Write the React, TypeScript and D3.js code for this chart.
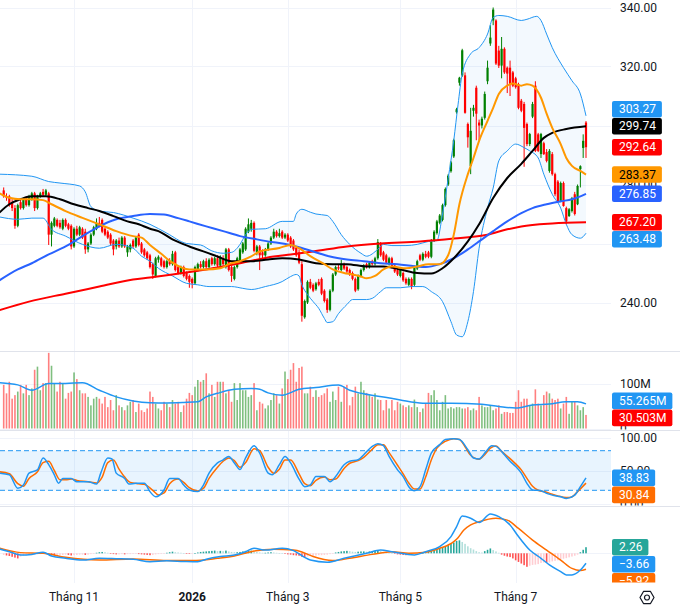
import { useEffect, useRef } from "react";
import * as d3 from "d3";

// daily candles [open, high, low, close]
const CANDLES_SEP_OCT = [
  [278, 279, 275.5, 276], [276, 277, 274.5, 275.5], [276, 276.5, 272.5, 273], [274, 275, 271, 272], [272, 273, 265, 266],
  [266, 273.5, 265.5, 273], [274, 275, 271.5, 272], [272, 275.5, 271.5, 275], [275, 276, 272.5, 273], [273, 276.5, 272.5, 276],
  [275, 277.5, 274.5, 277], [277, 277.5, 271, 272], [272, 276.5, 271.5, 276], [276, 277.5, 275.5, 277], [277.5, 278.5, 276, 276.5],
  [276.5, 278.5, 276, 278], [277, 277.5, 259.5, 263], [263, 267.5, 259, 267], [266, 269, 265.5, 268.5], [268, 268.5, 265.5, 266],
  [267, 268, 265, 265.5], [265, 268.5, 264.5, 268], [268, 268.5, 265.5, 266], [266.5, 267, 264.5, 265], [266, 266.5, 258, 259],
];
const CANDLES_NOV_DEC = [
  [259, 265.5, 258.5, 265], [265, 266, 262.5, 263], [263, 266, 262.5, 265.5], [265, 265.5, 261.5, 262], [264, 265, 256.5, 258],
  [258, 260.5, 257, 260], [260, 263.5, 259.5, 263], [263, 266, 262.5, 265.5], [265, 268.5, 264.5, 267], [267, 269, 265.5, 266],
  [268, 268.5, 263.5, 264], [265, 265.5, 262.5, 263], [264, 264.5, 261.5, 262], [263, 263.5, 259.5, 260], [261, 261.5, 256, 258],
  [259, 261.5, 258, 261], [261, 262, 258.5, 259], [259, 262.5, 258.5, 262], [262, 262.5, 258.5, 259], [257, 259.5, 255.5, 259],
  [258, 260, 257, 259.5], [261, 261.5, 258.5, 259], [259, 262.5, 258.5, 262], [263, 263.5, 259, 259.5], [260, 260.5, 256.5, 257],
  [258, 258.5, 255.5, 256], [257, 257.5, 254.5, 255], [256, 256.5, 251.5, 252], [253, 253.5, 248, 249.5], [249, 255.5, 248.5, 255],
  [254.5, 256, 253.5, 255.5], [255, 255.5, 252, 252.5], [254, 254.5, 251.5, 252], [252, 254.5, 251.5, 254], [254, 255, 252.5, 253],
  [253, 257.5, 252.5, 256.5], [257, 257.5, 250.5, 251], [252, 252.5, 249.5, 250], [250, 252.5, 249.5, 252], [252, 252.5, 248.5, 249],
  [250, 250.5, 247.5, 248], [249, 249.5, 245, 247],
];
const CANDLES_JAN_FEB = [
  [248, 248.5, 244.8, 246.5], [246.5, 252.5, 246, 252], [251, 253.5, 250.5, 253], [253, 254, 251.5, 252], [252, 254.5, 251.5, 254],
  [254, 255, 251.5, 252], [252, 255, 251.5, 254.5], [255, 255.5, 252.5, 253], [253, 255.5, 252.5, 255], [255, 256, 252, 252.5],
  [252.5, 256, 252, 255.5], [255, 256, 252.5, 253], [252, 258.5, 251.5, 258], [258, 258.5, 250.5, 251], [252, 252.5, 247, 249],
  [248, 252.5, 247.5, 252], [252, 255.5, 251.5, 255], [254, 258.5, 253.5, 258], [257, 260.5, 256.5, 260], [258, 265.5, 257.5, 265],
  [264, 268.5, 263.5, 266.5], [265, 268, 264, 267], [267, 267.5, 257, 257.5], [257, 259.5, 256, 259], [259, 259.5, 251, 256],
  [257, 258, 255, 256], [256, 258.5, 255.5, 258], [258, 260.5, 257.5, 260], [260, 262.5, 259.5, 262], [262, 265, 261.5, 264],
  [264, 264.5, 262, 262.5], [262.5, 265, 262, 263.5], [264, 264.5, 261.5, 262], [262, 263.5, 261.5, 263],
];
const CANDLES_MAR_APR = [
  [263, 263.5, 260.5, 261], [262, 262.5, 258.5, 259], [261, 261.5, 257.5, 258], [258.5, 259, 255.5, 256], [257, 258, 253, 253.5],
  [253, 254, 233.5, 235.5], [235, 241, 234.5, 240.5], [240, 247.5, 239.5, 247], [247, 248, 244.5, 245], [246, 246.5, 243.5, 244],
  [244.5, 247, 244, 246.5], [247, 248, 245.5, 246], [248, 248.5, 242.5, 243], [244, 244.5, 240, 240.5], [241, 241.5, 236.5, 237.5],
  [237.5, 244.5, 237, 244], [244, 250, 243.5, 249.5], [249.5, 252.5, 249, 252], [252, 253, 251, 251.5], [251, 254.5, 250.5, 253],
  [253, 253.5, 251, 251.5], [252, 252.5, 250, 250.5], [251, 251.5, 249, 249.5], [250, 250.5, 247.5, 248], [248, 248.5, 243.5, 244],
  [244.5, 249.5, 244, 249], [249, 251.5, 248.5, 251], [251, 253, 250.5, 252.5], [253, 253.5, 251.5, 252], [252, 254, 251.5, 253.5],
  [254, 254.5, 252.5, 253], [253, 255.5, 252.5, 255], [255, 261.5, 254.5, 260.5], [260, 260.5, 255.5, 256], [257, 257.5, 254, 254.5],
  [256, 256.5, 253, 253.5], [253, 255.5, 252.5, 255], [255, 255.5, 251.5, 252], [252.5, 253, 250, 250.5], [251, 251.5, 249, 249.5],
];
const CANDLES_MAY_JUN = [
  [249, 251.5, 248.5, 251], [250, 250.5, 247, 247.5], [248, 248.5, 246, 246.5], [246, 248.5, 245.5, 248], [248, 248.5, 244.5, 245.5],
  [246, 252.5, 245.5, 252], [251.5, 254.5, 251, 254], [256, 256.5, 254, 254.5], [254.5, 257, 254, 256.5], [256.5, 257.5, 255, 255.5],
  [257, 257.5, 255, 255.5], [255.5, 261.5, 255, 261], [261, 264.5, 260.5, 264], [263.5, 268, 263, 267.5], [267, 270, 266.5, 269.5],
  [268, 273.5, 267.5, 273], [273, 279, 272.5, 278.5], [280, 283.5, 279.5, 283], [284.5, 288, 284, 287.5], [289.5, 295.5, 289, 295],
  [304.5, 306, 304, 305.5], [314.5, 316.5, 313.5, 316.2], [317, 326, 316.5, 325.5], [317, 318, 304, 304.3], [300.5, 301, 292.5, 296],
  [286.3, 306, 283.5, 298.2], [305, 307, 303, 306], [312.8, 313.5, 295, 304], [301, 302, 295, 300], [300, 303, 299, 302.3],
  [302.6, 311.5, 302, 310.7], [315, 322, 314, 319.6], [327.8, 334, 327, 329.8], [335.6, 340, 334, 339.3], [335.6, 336, 320.5, 321],
  [325.4, 327, 319.5, 320.3], [320.3, 330, 316, 326], [326, 326.5, 317.5, 318], [319.6, 320, 311, 317.6], [319.6, 322, 310, 314],
  [318, 318.5, 313, 313.5],
];
const CANDLES_JUL_AUG = [
  [316, 316.5, 312.5, 313], [314, 314.5, 305.5, 306], [308.4, 309, 304.5, 305], [307.3, 308, 286, 299.2], [300.5, 301, 293, 293.7],
  [293.7, 297.5, 293, 297.1], [303, 308, 302.5, 307.3], [313.5, 315, 291, 291.4], [297, 297.5, 291, 291.4], [290.3, 297.5, 289, 297.1],
  [294, 294.5, 290, 290.3], [291, 292, 287.5, 288], [284.6, 292, 284, 291.4], [290.3, 291, 283, 283.5], [283.5, 284, 276, 276.7],
  [281, 281.5, 274, 274.3], [274.3, 281, 274, 280.5], [280.5, 281, 272.5, 272.7], [272, 272.5, 266.5, 267.5], [269.3, 272, 269, 271.6],
  [271, 275.8, 270.5, 275.4], [276.7, 277.5, 269.5, 270], [273.3, 280, 273, 279.5], [285.2, 286.5, 279, 286.2], [292.4, 297, 289, 294.8],
  [301, 301.5, 289, 292.64],
];

// volume, millions
const VOLUME_A = [98, 79, 105, 67, 75, 83, 98, 79, 98, 75, 90, 132, 139, 86, 102, 102, 170, 141, 102, 83, 105, 102, 67, 80, 83, 126,
  111, 86, 79, 79, 71, 52, 67, 71, 67, 56, 71, 48, 64, 41, 75, 52, 48, 41, 52, 60, 64, 37, 56, 41, 37, 45];
const VOLUME_B = [83, 71, 56, 45, 41, 60, 56, 48, 64, 56, 60, 37, 52, 67, 80, 75, 94, 109, 105, 109, 124, 79, 98, 71, 105, 105, 105,
  79, 86, 60, 102, 64, 102, 86, 86, 71, 75, 102, 41, 60, 56, 45, 52, 64, 79, 75, 56, 90, 128, 111, 132, 147, 105];
const VOLUME_C = [136, 139, 79, 79, 94, 71, 86, 71, 75, 79, 90, 60, 83, 64, 94, 60, 94, 98, 52, 71, 94, 79, 105, 86, 80, 75, 71, 79,
  65, 64, 41, 64, 45, 64, 41, 60, 56, 52, 48, 52, 48, 65, 48, 37, 45, 56, 80, 75, 86, 64, 41];
const VOLUME_D = [60, 75, 45, 48, 45, 48, 48, 45, 45, 48, 41, 45, 41, 71, 52, 48, 48, 52, 41, 45, 52, 33, 37, 37, 35, 35, 60, 86, 60,
  67, 67, 52, 56, 88, 56, 52, 75, 83, 79, 67, 64, 67, 45, 56, 71, 33, 60, 60, 52, 41, 48, 30.503];

// MACD histogram, one value per bar
const HIST_A = [-0.6, -0.8, -1.0, -1.3, -1.6, -1.9, -1.2, -0.9, -0.7, -0.6, -0.5, -0.5, -0.4, -0.3, -0.2, -0.3, -0.5, -0.7, -0.8,
  -0.7, -0.6, -0.6, -0.5, -0.6, -0.8, -0.7, -0.6, -0.5, -0.5, -0.6, -0.5, -0.3, -0.1, 0.2, 0.4, 0.5, 0.4, 0.2, -0.1, -0.3, -0.4,
  -0.4, -0.3, -0.4, -0.3, -0.3, -0.2, -0.2, -0.3, -0.4, -0.5, -0.6];
const HIST_B = [-0.7, -0.6, -0.4, -0.3, -0.2, -0.1, 0.2, 0.4, 0.6, 0.4, 0.3, 0.2, 0.1, -0.1, -0.2, -0.2, 0.1, 0.3, 0.5, 0.6, 0.7,
  0.8, 0.9, 1.0, 0.8, 0.9, 0.8, 1.0, 0.7, 0.5, 0.4, 0.4, 0.5, 0.7, 0.9, 1.0, 1.0, 0.7, 0.5, 0.3, 0.2, 0.2, 0.3, 0.4, 0.3, 0.2, 0.1,
  0.0, -0.2, -0.4, -0.5, -0.7, -0.8];
const HIST_C = [-0.9, -1.3, -1.4, -1.2, -1.0, -0.9, -0.8, -0.7, -0.7, -0.6, -0.5, -0.3, -0.1, 0.3, 0.5, 0.7, 0.8, 0.9, 0.8, 0.6,
  0.5, 0.6, 0.7, 0.7, 0.6, 0.7, 0.8, 0.9, 1.0, 0.8, 0.5, 0.3, 0.2, 0.1, -0.2, -0.4, -0.5, -0.6, -0.7, -0.6, -0.5, -0.3, -0.2, -0.1,
  0.1, 0.3, 0.6, 0.9, 1.3, 1.5, 1.8];
const HIST_D = [2.2, 2.6, 3.0, 3.5, 4.0, 4.6, 4.8, 4.2, 3.5, 2.6, 1.9, 1.4, 0.8, 0.4, 0.3, 0.8, 1.3, 1.8, 1.2, 0.7, 0.2, -0.5, -0.9,
  -1.2, -1.4, -1.9, -2.6, -3.2, -3.8, -4.4, -5.0, -4.6, -4.3, -4.2, -4.0, -3.6, -3.4, -3.5, -3.4, -3.0, -2.8, -2.6, -2.2, -2.0, -1.8,
  -1.5, -1.2, -0.9, -0.5, 0.4, 1.3, 2.26];

// indicator lines, [bar, value]
const BB_UPPER = [[-1.5, 283.5], [10, 282.8], [16, 281], [20, 280.5], [27, 279.5], [29, 277.5], [31, 272.5], [34, 271], [39, 270.5],
  [46, 268.6], [52, 266.5], [58, 263.5], [65, 260], [70, 259.5], [74, 257.5], [78, 256.7], [81, 257], [84, 259.7], [86, 263], [88, 264.8],
  [93, 265], [99, 267.5], [103, 267.5], [104, 270], [106, 271.6], [109, 270.6], [111, 270], [115, 269.5], [117, 267.5], [120, 263],
  [123, 259.7], [127, 256.7], [129, 255.7], [133, 258], [135, 259.7], [138, 259.3], [143, 259.3], [147, 259.7], [151, 260.7], [154, 261],
  [156, 270], [158, 282], [160, 295], [161.5, 307], [163, 317.5], [166, 324.3], [169, 326.4], [172, 331], [174, 336.6], [176, 337.3],
  [179, 337], [184, 335.6], [186, 336], [189.5, 337], [191, 335.6], [193, 331], [195, 326.4], [199, 319.6], [202, 315.2], [205, 310.7],
  [207, 303.27]];
const BB_BASIS = [[-1.5, 277], [2, 275.5], [6, 275], [10, 275], [14, 274.7], [17, 273.3], [22, 271], [28, 268.7], [34, 266.5],
  [40, 264.2], [46, 262.5], [49, 262], [52, 259.5], [56, 256.5], [60, 253.5], [66, 251.2], [72, 251.2], [77, 251.6], [80, 253], [84, 254],
  [88, 255.6], [91, 257.3], [98, 258.5], [102, 259.5], [105, 258.4], [109, 255.7], [114, 253], [117, 251.2], [121, 250], [124, 249.5],
  [127, 248.8], [129, 248.2], [132, 249], [135, 251.2], [138, 252.2], [143, 251.6], [147, 252.2], [151, 253], [155, 253], [158, 256],
  [160, 263], [162, 273.3], [165, 283.5], [167, 289], [169, 294.8], [172, 301.6], [174, 306], [176, 310.7], [179, 313.5], [181, 314.2],
  [184, 313.5], [186, 314], [188, 313.5], [191, 309.4], [193, 304], [195, 299.2], [198, 293.7], [200, 289], [202, 286.3], [205, 284.6],
  [207, 283.37]];
const BB_LOWER = [[-1.5, 269], [5, 268.2], [10, 268.6], [14, 268.6], [17, 264.8], [22, 262.5], [28, 259.7], [34, 258.4], [40, 259.7],
  [46, 258.4], [49, 255.7], [52, 254], [55, 251.6], [60, 249], [65, 246.5], [69, 246], [73, 245.4], [81, 245.4], [85, 244.8], [88, 244.4],
  [93, 245.4], [99, 247.1], [102, 248.8], [104, 249.5], [105, 249], [106, 246], [108, 242.7], [110, 240.3], [112, 238], [114, 234.6],
  [115, 233.2], [117, 233.5], [119, 236.2], [122, 239.3], [124, 241], [129, 241], [131, 241.4], [134, 243.7], [136, 245], [141, 245],
  [145, 245.4], [149, 245.4], [152, 243.7], [156, 240.3], [159, 233.5], [161, 229], [163, 228.4], [165, 233.5], [167, 243.7],
  [169, 258.4], [172, 272], [174, 278.8], [176, 288], [179, 291.4], [182, 293.7], [185, 292.5], [187, 291.4], [190, 289], [192, 283.5],
  [195, 276.7], [198, 272], [200, 266.5], [202, 263], [205, 261.8], [207, 263.48]];
const SMA_50 = [[-1.5, 270.5], [2, 273.3], [6, 275], [10, 276], [15, 276], [20, 275], [25, 273.3], [30, 272], [34, 271], [39, 269.3],
  [44, 267.5], [48, 266.5], [52, 265], [55, 264.2], [60, 261.4], [66, 259], [72, 257], [76, 255.6], [81, 254], [88, 254], [94, 254.6],
  [99, 255], [105, 254.6], [111, 253.3], [117, 253], [122, 253], [129, 252.2], [135, 252.2], [141, 251.2], [147, 250], [152, 249.8],
  [156, 251.6], [160, 255], [165, 260.7], [169, 266.5], [174, 275.4], [179, 282.2], [184, 287], [188, 291.4], [192, 295.8], [195, 297.5],
  [200, 298.8], [207, 299.74]];
const SMA_100 = [[-1.5, 247.5], [5, 251.2], [10, 253.3], [16, 256.3], [22, 259], [28, 262.5], [34, 265.8], [40, 268.2], [46, 269.3],
  [52, 270], [57, 269.8], [62, 268.6], [66, 267.5], [72, 265.8], [78, 264.2], [84, 262.5], [90, 261.4], [96, 260.4], [101, 259.7],
  [104, 259], [110, 257.3], [116, 255.6], [122, 254.6], [128, 254], [134, 253.3], [140, 253], [146, 252.3], [150, 252], [155, 253],
  [160, 255], [165, 258], [169, 260.7], [174, 264.2], [179, 267.5], [184, 270.3], [188, 272], [193, 273.3], [198, 274.3], [202, 275],
  [207, 276.85]];
const SMA_200 = [[-1.5, 237.4], [9, 240.3], [22, 243], [34, 245.4], [46, 247.8], [52, 248.5], [60, 249.5], [72, 251.2], [84, 253.3],
  [96, 255.6], [102, 256.3], [110, 257.3], [122, 259], [134, 260], [148, 260.7], [160, 261.7], [172, 263], [179, 264.8], [184, 265.8],
  [195, 266.8], [207, 267.2]];
const VOLUME_MA = [[-1.5, 103], [5, 98], [10, 86], [16, 101], [22, 101], [28, 103], [34, 86], [40, 71], [46, 62], [52, 58], [58, 57.5],
  [64, 58.5], [69, 60], [72, 71], [76, 79], [82, 88], [88, 90], [91, 88], [94, 80], [99, 75], [105, 88], [111, 92], [119, 97.7], [123, 86],
  [127, 79], [135, 71], [141, 64], [149, 57], [159, 57], [170, 54.5], [176, 49.5], [182, 46], [188, 53], [194, 55], [200, 60], [204, 60],
  [207, 55.265]];
const STOCH_K = [[-1.5, 46], [2, 43.5], [5, 23], [7, 28], [9, 46], [12, 51], [14, 69], [16, 59], [18, 43.5], [19.5, 30.6], [21, 38],
  [24, 38], [26, 33], [30, 33], [33, 29.5], [34.5, 46], [37, 69], [38.5, 67.5], [40, 46], [43, 38], [44.5, 29.5], [47, 30.6], [50, 30.6],
  [52, 18], [54, 10.3], [57, 20.5], [59, 38], [62, 38], [64, 28], [66, 20.5], [69, 18], [71, 28], [73, 46], [76, 61.5], [78, 66.2],
  [80, 71.3], [82, 61.5], [84, 51.4], [86, 69], [89, 87.6], [91, 76.5], [94, 46], [95.5, 43.5], [98, 58.8], [100, 71.3], [102, 61.5],
  [105, 37], [107, 25.5], [109, 28], [111, 40.8], [114, 40.8], [116, 33], [118, 40.8], [121, 58.8], [123, 64], [126, 66.2], [128, 73.9],
  [131, 86.6], [133, 90.7], [135, 87.6], [137, 71.3], [140, 51], [142, 40.8], [144, 25.5], [146, 19.4], [148, 25.5], [150, 51],
  [152, 76.4], [155, 89.2], [157, 96.9], [160, 98], [162, 97], [165, 81.5], [167, 69], [169, 67.5], [171.5, 79], [173.5, 87.6],
  [175, 86.6], [178, 73.9], [180, 64], [182, 56], [184, 46], [186, 30.6], [188, 20.5], [191, 19.4], [193, 15.3], [195, 12.7],
  [198, 10.3], [200, 7.7], [203, 12.7], [205, 25.5], [207, 38.83]];
const STOCH_D = [[-1.5, 48], [2, 45], [5, 30], [7, 26], [9, 38], [12, 48], [14, 62], [16, 64], [18, 50], [20, 36], [22, 36], [24, 37],
  [26, 35], [30, 33], [33, 31], [35, 40], [37, 62], [39, 66], [41, 52], [43, 40], [45, 32], [48, 30], [50, 29], [53, 20], [55, 13],
  [57, 16], [59, 30], [62, 37], [64, 32], [66, 24], [69, 19], [71, 23], [73, 38], [76, 55], [78, 64], [80, 69], [82, 65], [84, 55],
  [86, 62], [89, 83], [91, 80], [94, 55], [96, 46], [98, 52], [100, 66], [102, 66], [105, 45], [107, 30], [109, 27], [111, 35], [114, 40],
  [116, 36], [118, 37], [121, 53], [123, 61], [126, 65], [128, 70], [131, 82], [133, 89], [135, 89], [137, 77], [140, 58], [142, 45],
  [144, 31], [146, 22], [148, 22], [150, 40], [152, 66], [154, 84], [157, 94], [160, 98], [162, 97], [164, 86], [166, 73], [169, 67],
  [171, 74], [173, 84], [175, 87], [177, 79], [180, 68], [182, 60], [184, 51], [186, 38], [188, 26], [190, 20], [193, 17], [195, 14],
  [197, 11.5], [200, 9], [202, 10], [204, 18], [207, 30.84]];
const MACD_LINE = [[-1.5, 1.6], [2, 0.6], [6, -0.6], [10, -0.4], [14, 0.4], [17, -1], [22, -1.85], [28, -2.5], [34, -1.85], [40, -2],
  [46, -2.2], [52, -3.1], [58, -2.8], [64, -3], [69, -3.1], [72, -2.2], [77, -1.2], [82, -0.6], [86, 0.6], [89, 1.85], [93, 1.2],
  [99, 1.85], [103, 1.0], [105, -0.2], [107, -1.5], [109, -2.5], [115, -3.3], [121, -1.85], [129, 0], [134, 1.2], [138, 0.6], [146, -0.6],
  [150, 0.6], [155, 2.5], [159, 6.2], [161, 9.9], [163, 13.8], [166, 13], [169, 11.4], [173, 14.6], [176, 13.6], [180, 10.5], [183, 6.2],
  [187, 1.2], [191, -1.85], [194, -4.3], [198, -6.8], [200, -8], [202, -8], [205, -6.2], [207, -3.66]];
const MACD_SIGNAL = [[-1.5, 1.9], [6, 0.25], [14, 0], [22, -1.5], [34, -2.5], [46, -2.1], [58, -2.7], [67, -2.7], [76, -1.85],
  [82, -1], [89, 0.86], [96, 1.5], [103, 1.2], [106, 0.5], [110, -1.2], [117, -2.7], [123, -1.85], [131, -0.4], [138, 0.6], [144, 0],
  [150, 0.4], [155, 1.85], [160, 4.3], [161.5, 5.8], [163.5, 8.5], [166, 10.5], [169, 11.7], [175, 13], [179, 12.3], [183, 9.2],
  [188, 4.9], [193, 1.2], [198, -2.5], [202, -5.6], [205, -6.4], [207, -5.92]];

// last values shown on the right scale
const LAST_PRICE = { bbUpper: 303.27, sma50: 299.74, close: 292.64, bbBasis: 283.37, sma100: 276.85, sma200: 267.2, bbLower: 263.48 };
const LAST_VOLUME = { ma: 55.265, vol: 30.503 };
const LAST_STOCH = { k: 38.83, d: 30.84 };
const LAST_MACD = { hist: 2.26, macd: -3.66, signal: -5.92 };

const MONTH_LABELS = ["Tháng 11", "2026", "Tháng 3", "Tháng 5", "Tháng 7"];
const MONTH_BARS = [25, 67, 101, 141, 182];
const PRICE_TICKS = [240, 260, 280, 300, 320, 340];
const STOCH_TICKS = [100, 50, 0];

const CANDLES = [...CANDLES_SEP_OCT, ...CANDLES_NOV_DEC, ...CANDLES_JAN_FEB, ...CANDLES_MAR_APR, ...CANDLES_MAY_JUN, ...CANDLES_JUL_AUG];
const VOLUME = [...VOLUME_A, ...VOLUME_B, ...VOLUME_C, ...VOLUME_D];
const HIST = [...HIST_A, ...HIST_B, ...HIST_C, ...HIST_D];

type Lbl = { y: number; text: string; bg: string; fg: string; fixed: boolean };

// keep value labels from overlapping; fixed ones stay, the others give way
function spread(items: Lbl[], h: number) {
  for (let k = 0; k < 60; k++) {
    items.sort((a, b) => a.y - b.y);
    for (let i = 1; i < items.length; i++) {
      const a = items[i - 1], b = items[i];
      const ov = a.y + h - b.y;
      if (ov <= 0.01) continue;
      if (a.fixed && !b.fixed) b.y += ov;
      else if (!a.fixed && b.fixed) a.y -= ov;
      else { a.y -= ov / 2; b.y += ov / 2; }
    }
  }
  return items;
}

const fmt2 = (v: number) => (v < 0 ? "\u2212" : "") + Math.abs(v).toFixed(2);

export default function App() {
  const ref = useRef<SVGSVGElement>(null);

  useEffect(() => {
    if (!ref.current) return;
    const W = 680, H = 610, PR = 611;
    const svg = d3.select(ref.current);
    svg.selectAll("*").remove();

    const panes: Record<string, [number, number]> = {
      price: [0, 350.5], vol: [351.5, 429.5], stoch: [430.5, 505.5], macd: [506.5, 582.5],
    };

    const x = d3.scaleLinear().domain([0, CANDLES.length - 1]).range([3.7, 586]);
    const yP = d3.scaleLinear().domain([240, 340]).range([302.5, 7.5]);
    const yV = d3.scaleLinear().domain([0, 100]).range([428.5, 384]);
    const yS = d3.scaleLinear().domain([0, 100]).range([503.5, 437.5]);
    const yM = d3.scaleLinear().domain([-10, 10]).range([580.3, 526.3]);

    const defs = svg.append("defs");
    Object.entries(panes).forEach(([k, [t, b]]) => {
      defs.append("clipPath").attr("id", `plot-${k}`).append("rect")
        .attr("x", 0).attr("y", t).attr("width", PR).attr("height", b - t);
      defs.append("clipPath").attr("id", `pane-${k}`).append("rect")
        .attr("x", 0).attr("y", t).attr("width", W).attr("height", b - t);
    });

    svg.append("rect").attr("width", W).attr("height", H).attr("fill", "#ffffff");

    // grid
    const grid = svg.append("g").attr("stroke", "#f0f3fa").attr("stroke-width", 1).attr("shape-rendering", "crispEdges");
    MONTH_BARS.forEach(b => {
      const gx = Math.round(x(b)) + 0.5;
      grid.append("line").attr("x1", gx).attr("x2", gx).attr("y1", 0).attr("y2", 582.5);
    });
    const hLine = (y: number) => grid.append("line").attr("x1", 0).attr("x2", PR).attr("y1", Math.round(y) + 0.5).attr("y2", Math.round(y) + 0.5);
    PRICE_TICKS.forEach(v => hLine(yP(v)));
    hLine(yV(100)); hLine(yV(0));
    STOCH_TICKS.forEach(v => hLine(yS(v)));
    hLine(yM(0));

    // separators
    [351, 430, 506].forEach(y => svg.append("line").attr("x1", 0).attr("x2", W).attr("y1", y).attr("y2", y)
      .attr("stroke", "#e0e3eb").attr("stroke-width", 1).attr("shape-rendering", "crispEdges"));

    const lineOf = (ys: d3.ScaleLinear<number, number>) =>
      d3.line<number[]>().x(d => x(d[0])).y(d => ys(d[1])).curve(d3.curveMonotoneX);

    const drawLine = (g: d3.Selection<SVGGElement, unknown, null, undefined>, gen: d3.Line<number[]>, data: number[][], color: string, w: number) =>
      g.append("path").attr("d", gen(data) as string).attr("fill", "none").attr("stroke", color).attr("stroke-width", w)
        .attr("stroke-linejoin", "round");

    // ---- price pane ----
    const pg = svg.append("g").attr("clip-path", "url(#plot-price)");
    const lp = lineOf(yP);
    const upperD = lp(BB_UPPER) as string;
    const lowerRev = lp([...BB_LOWER].reverse()) as string;
    pg.append("path").attr("d", upperD + "L" + lowerRev.slice(1) + "Z").attr("fill", "rgba(33,150,243,0.055)");

    CANDLES.forEach(([o, h, l, c], i) => {
      const col = c >= o ? "#008000" : "#ff0000";
      const cx = x(i);
      pg.append("line").attr("x1", cx).attr("x2", cx).attr("y1", yP(h)).attr("y2", yP(l)).attr("stroke", col).attr("stroke-width", 1);
      const top = yP(Math.max(o, c)), bot = yP(Math.min(o, c));
      pg.append("rect").attr("x", cx - 1.1).attr("width", 2.2).attr("y", top).attr("height", Math.max(1, bot - top)).attr("fill", col);
    });

    drawLine(pg, lp, BB_UPPER, "#2196f3", 1);
    drawLine(pg, lp, BB_LOWER, "#2196f3", 1);
    drawLine(pg, lp, SMA_200, "#ff0000", 2);
    drawLine(pg, lp, SMA_100, "#2962ff", 2);
    drawLine(pg, lp, SMA_50, "#000000", 2);
    drawLine(pg, lp, BB_BASIS, "#ff9800", 2);

    // ---- volume pane ----
    const vg = svg.append("g").attr("clip-path", "url(#plot-vol)");
    VOLUME.forEach((v, i) => {
      const [o, , , c] = CANDLES[i];
      vg.append("rect").attr("x", x(i) - 0.8).attr("width", 1.6).attr("y", yV(v)).attr("height", yV(0) - yV(v))
        .attr("fill", c >= o ? "rgba(0,128,0,0.5)" : "rgba(255,0,0,0.5)");
    });
    drawLine(vg, lineOf(yV), VOLUME_MA, "#2196f3", 1.5);

    // ---- stochastic pane ----
    const sg = svg.append("g").attr("clip-path", "url(#plot-stoch)");
    sg.append("rect").attr("x", 0).attr("width", PR).attr("y", yS(80)).attr("height", yS(20) - yS(80)).attr("fill", "rgba(33,150,243,0.1)");
    [80, 20].forEach(v => sg.append("line").attr("x1", 0).attr("x2", PR).attr("y1", yS(v)).attr("y2", yS(v))
      .attr("stroke", "#2196f3").attr("stroke-width", 1).attr("stroke-dasharray", "5,3"));
    const ls = lineOf(yS);
    drawLine(sg, ls, STOCH_D, "#ff6d00", 1.5);
    drawLine(sg, ls, STOCH_K, "#2196f3", 1.5);

    // ---- MACD pane ----
    const mg = svg.append("g").attr("clip-path", "url(#plot-macd)");
    HIST.forEach((h, i) => {
      const prev = i > 0 ? HIST[i - 1] : h;
      const col = h >= 0 ? (h >= prev ? "#26a69a" : "#b2dfdb") : (h < prev ? "#ff5252" : "#ffcdd2");
      const y0 = yM(0), y1 = yM(h);
      mg.append("rect").attr("x", x(i) - 0.8).attr("width", 1.6).attr("y", Math.min(y0, y1)).attr("height", Math.max(0.6, Math.abs(y1 - y0)))
        .attr("fill", col);
    });
    const lm = lineOf(yM);
    drawLine(mg, lm, MACD_SIGNAL, "#ff6d00", 1.5);
    drawLine(mg, lm, MACD_LINE, "#2196f3", 1.5);

    // ---- right scale ----
    const font = "Roboto, 'Noto Sans', sans-serif";

    const priceLbls = spread([
      { y: yP(LAST_PRICE.bbUpper), text: fmt2(LAST_PRICE.bbUpper), bg: "#2196f3", fg: "#fff", fixed: false },
      { y: yP(LAST_PRICE.sma50), text: fmt2(LAST_PRICE.sma50), bg: "#000000", fg: "#fff", fixed: true },
      { y: yP(LAST_PRICE.close), text: fmt2(LAST_PRICE.close), bg: "#ff0000", fg: "#fff", fixed: true },
      { y: yP(LAST_PRICE.bbBasis), text: fmt2(LAST_PRICE.bbBasis), bg: "#ff9800", fg: "#000", fixed: true },
      { y: yP(LAST_PRICE.sma100), text: fmt2(LAST_PRICE.sma100), bg: "#2962ff", fg: "#fff", fixed: true },
      { y: yP(LAST_PRICE.sma200), text: fmt2(LAST_PRICE.sma200), bg: "#ff0000", fg: "#fff", fixed: true },
      { y: yP(LAST_PRICE.bbLower), text: fmt2(LAST_PRICE.bbLower), bg: "#2196f3", fg: "#fff", fixed: false },
    ], 17);
    const volLbls = spread([
      { y: yV(LAST_VOLUME.ma), text: LAST_VOLUME.ma.toFixed(3) + "M", bg: "#2196f3", fg: "#fff", fixed: false },
      { y: yV(LAST_VOLUME.vol), text: LAST_VOLUME.vol.toFixed(3) + "M", bg: "#ff0000", fg: "#fff", fixed: false },
    ], 17);
    const stochLbls = spread([
      { y: yS(LAST_STOCH.k), text: fmt2(LAST_STOCH.k), bg: "#2196f3", fg: "#fff", fixed: true },
      { y: yS(LAST_STOCH.d), text: fmt2(LAST_STOCH.d), bg: "#ff6d00", fg: "#fff", fixed: false },
    ], 17);
    const macdLbls = spread([
      { y: yM(LAST_MACD.hist), text: fmt2(LAST_MACD.hist), bg: "#26a69a", fg: "#fff", fixed: true },
      { y: yM(LAST_MACD.macd), text: fmt2(LAST_MACD.macd), bg: "#2196f3", fg: "#fff", fixed: false },
      { y: yM(LAST_MACD.signal), text: fmt2(LAST_MACD.signal), bg: "#ff6d00", fg: "#fff", fixed: false },
    ], 17);

    // tick labels; a tick that sits right under a value label is not drawn (it would be hidden anyway)
    const tickText = (pane: string, y: number, t: string, covers: Lbl[]) => {
      if (covers.some(c => Math.abs(c.y - y) < 4.5)) return;
      svg.append("g").attr("clip-path", `url(#pane-${pane})`).append("text").attr("x", 620).attr("y", y).attr("dy", "0.35em")
        .attr("font-family", font).attr("font-size", 12).attr("fill", "#131722").text(t);
    };
    PRICE_TICKS.forEach(v => tickText("price", yP(v), v.toFixed(2), priceLbls));
    tickText("vol", yV(100), "100M", volLbls);
    tickText("vol", yV(0), "0", volLbls);
    STOCH_TICKS.forEach(v => tickText("stoch", yS(v), v.toFixed(2), stochLbls));

    const drawLabels = (pane: string, items: Lbl[]) => {
      const g = svg.append("g").attr("clip-path", `url(#pane-${pane})`);
      items.forEach(it => {
        const box = g.append("rect").attr("x", 612).attr("y", it.y - 8.3).attr("height", 16.6).attr("rx", 2).attr("fill", it.bg);
        const t = g.append("text").attr("x", 619).attr("y", it.y).attr("dy", "0.35em").attr("font-family", font)
          .attr("font-size", 12).attr("fill", it.fg).text(it.text);
        const w = (t.node() as SVGTextElement).getComputedTextLength();
        box.attr("width", w + 13);
      });
    };
    drawLabels("price", priceLbls);
    drawLabels("vol", volLbls);
    drawLabels("stoch", stochLbls);
    drawLabels("macd", macdLbls);

    // ---- time axis ----
    MONTH_LABELS.forEach((t, i) => {
      svg.append("text").attr("x", x(MONTH_BARS[i])).attr("y", 597).attr("dy", "0.35em").attr("text-anchor", "middle")
        .attr("font-family", font).attr("font-size", 12).attr("fill", "#131722")
        .attr("font-weight", t === "2026" ? 700 : 400).text(t);
    });

    // settings icon
    const gear = svg.append("g").attr("transform", "translate(647,597.5)").attr("fill", "none").attr("stroke", "#131722").attr("stroke-width", 1.2);
    const hex = d3.range(6).map(k => [7 * Math.cos((k * Math.PI) / 3), 7 * Math.sin((k * Math.PI) / 3)] as [number, number]);
    gear.append("path").attr("d", (d3.line()(hex) as string) + "Z").attr("stroke-linejoin", "round");
    gear.append("circle").attr("r", 2.5);
  }, []);

  return (
    <>
      <style>{`body{margin:0}`}</style>
      <svg ref={ref} width={680} height={610} style={{ display: "block" }} />
    </>
  );
}
